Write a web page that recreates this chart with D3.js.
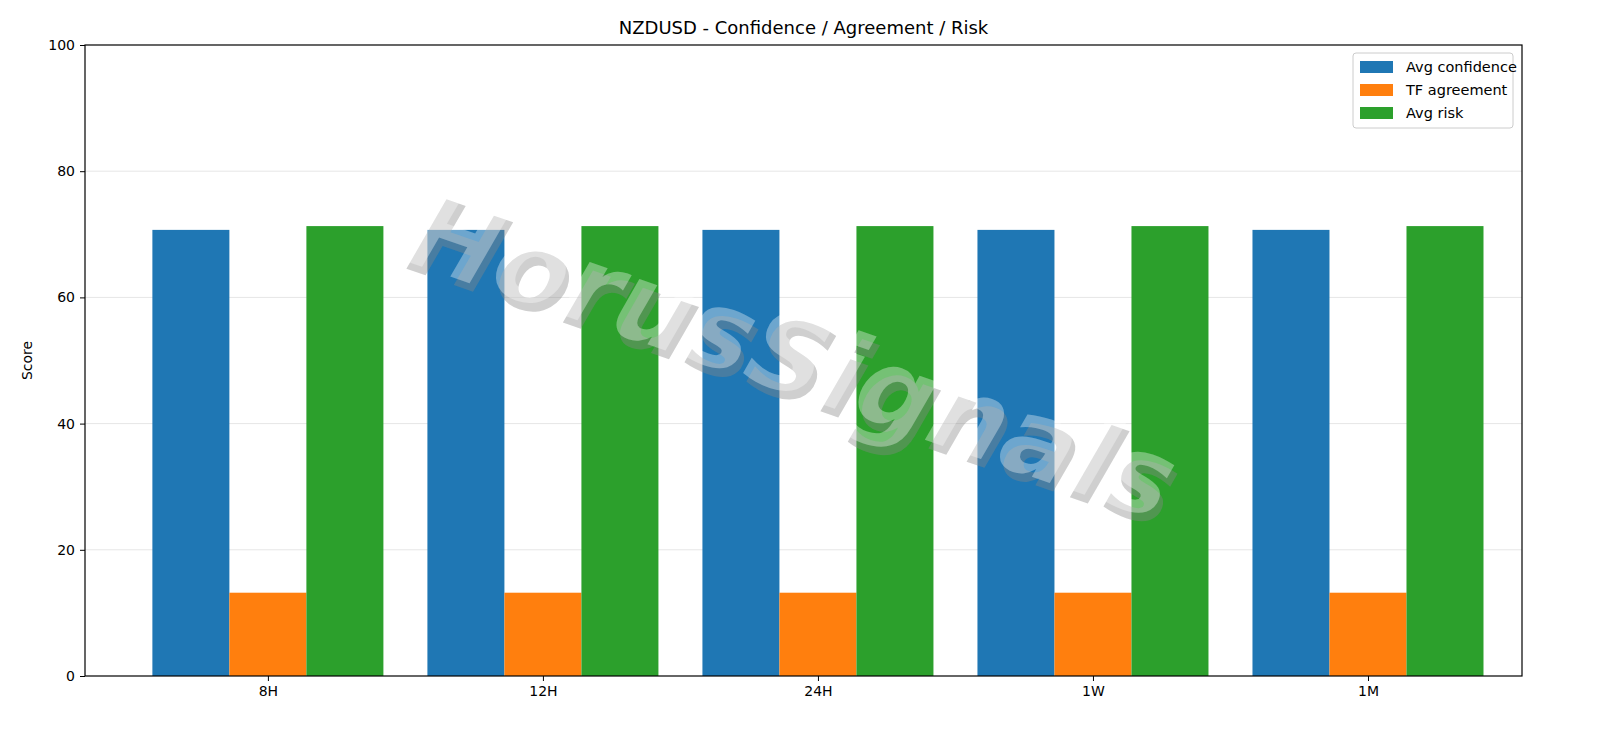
<!DOCTYPE html>
<meta charset="utf-8">
<style>
body { margin:0; background:#fff; }
svg text { font-family: "DejaVu Sans", sans-serif; }
</style>
<body>
<svg width="1600" height="738"></svg>
<script src="https://cdn.jsdelivr.net/npm/d3@7"></script>
<script>
var categories = ["8H","12H","24H","1W","1M"];
var avgConfidence = [70.7,70.7,70.7,70.7,70.7];
var tfAgreement = [13.2,13.2,13.2,13.2,13.2];
var avgRisk = [71.3,71.3,71.3,71.3,71.3];
var seriesNames = ["Avg confidence","TF agreement","Avg risk"];
var colors = ["#1f77b4","#ff7f0e","#2ca02c"];
var yTicks = [0,20,40,60,80,100];

var series = [avgConfidence, tfAgreement, avgRisk];
var L = 85, R = 1522, T = 45, B = 676, w = 0.28;
var svg = d3.select("svg");

var x = d3.scaleLinear().domain([-0.665, 4.56]).range([L, R]);
var y = d3.scaleLinear().domain([0,100]).range([B, T]);

// grid
svg.append("g").selectAll("line").data(yTicks.slice(1,5)).join("line")
  .attr("x1",L).attr("x2",R).attr("y1",d=>y(d)).attr("y2",d=>y(d))
  .attr("stroke","#e6e6e6").attr("stroke-width",1);

// bars
series.forEach(function(vals, s){
  svg.append("g").selectAll("rect").data(vals).join("rect")
    .attr("x",(d,i)=>x(i+(s-1)*w-w/2)).attr("width",x(w)-x(0))
    .attr("y",d=>y(d)).attr("height",d=>B-y(d)).attr("fill",colors[s]);
});

// watermark
var wm = svg.append("g").attr("transform","translate(780,390) rotate(19)");
wm.append("text").attr("x",6).attr("y",7).attr("text-anchor","middle")
  .style("font-size","108px").style("font-style","italic").style("font-weight","bold")
  .attr("fill","#888").attr("fill-opacity",0.4).text("HorusSignals");
wm.append("text").attr("text-anchor","middle")
  .style("font-size","108px").style("font-style","italic").style("font-weight","bold")
  .attr("fill","#fff").attr("fill-opacity",0.35).text("HorusSignals");

// axes
var ya = svg.append("g").attr("transform","translate("+L+",0)")
  .call(d3.axisLeft(y).tickValues(yTicks).tickSize(5).tickPadding(5));
var xa = svg.append("g").attr("transform","translate(0,"+B+")")
  .call(d3.axisBottom(x).tickValues(d3.range(categories.length)).tickFormat(i=>categories[i]).tickSize(5).tickPadding(5));
[ya,xa].forEach(a=>{ a.select(".domain").remove(); a.selectAll("text").style("font-size","14px").attr("fill","#000"); a.selectAll("line").attr("stroke","#000"); });
svg.append("rect").attr("x",L).attr("y",T).attr("width",R-L).attr("height",B-T)
  .attr("fill","none").attr("stroke","#000").attr("stroke-width",1.2);

svg.append("text").attr("x",(L+R)/2).attr("y",34).attr("text-anchor","middle")
  .style("font-size","18px").text("NZDUSD - Confidence / Agreement / Risk");
svg.append("text").attr("transform","translate(32,"+((T+B)/2)+") rotate(-90)")
  .attr("text-anchor","middle").style("font-size","14px").text("Score");

// legend
var lg = svg.append("g").attr("transform","translate(1353,53)");
lg.append("rect").attr("width",160).attr("height",75).attr("rx",3)
  .attr("fill","#fff").attr("fill-opacity",0.8).attr("stroke","#ccc");
seriesNames.forEach(function(n,i){
  lg.append("rect").attr("x",7).attr("y",8+i*23).attr("width",33).attr("height",12).attr("fill",colors[i]);
  lg.append("text").attr("x",53).attr("y",19+i*23).style("font-size","14.5px").text(n);
});
</script>
</body>
